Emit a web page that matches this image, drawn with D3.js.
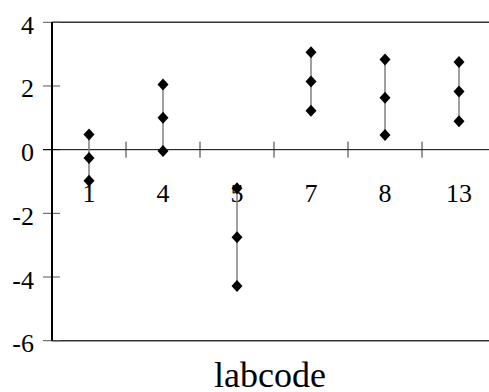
<!DOCTYPE html>
<html>
<head>
<meta charset="utf-8">
<script src="https://cdn.jsdelivr.net/npm/d3@7"></script>
<style>
body { margin:0; background:#fff; }
svg text { font-family:"Liberation Serif","Times New Roman",serif; fill:#000; }
</style>
</head>
<body>
<div id="chart"></div>
<script>
// labcode high / mid / low values
var categories = ["1", "4", "5", "7", "8", "13"];
var highVals = [0.48, 2.05, -1.21, 3.06, 2.83, 2.75];
var midVals  = [-0.26, 1.0, -2.75, 2.14, 1.63, 1.83];
var lowVals  = [-0.98, -0.04, -4.28, 1.22, 0.46, 0.89];
var yTicks = [-6, -4, -2, 0, 2, 4];

var W = 489, H = 392;
var margin = { left: 52, right: -7, top: 22.3, bottom: 51.3 };

var svg = d3.select("#chart").append("svg")
    .attr("width", W)
    .attr("height", H);

var x = d3.scaleBand()
    .domain(categories)
    .range([margin.left, W - margin.right])
    .padding(0);

var y = d3.scaleLinear()
    .domain([-6, 4])
    .range([H - margin.bottom, margin.top]);

var rows = categories.map(function(c, i){
    return { cat: c, hi: highVals[i], mid: midVals[i], lo: lowVals[i] };
});

// frame top and bottom
svg.append("line")
    .attr("x1", margin.left).attr("x2", W)
    .attr("y1", y(4)).attr("y2", y(4))
    .attr("stroke", "#333").attr("stroke-width", 1.5);
svg.append("line")
    .attr("x1", margin.left).attr("x2", W)
    .attr("y1", y(-6)).attr("y2", y(-6))
    .attr("stroke", "#333").attr("stroke-width", 1.5);

// y ticks crossing the left axis
var yAxis = svg.append("g").attr("class", "yaxis");
yAxis.selectAll("line.tick")
    .data(yTicks)
    .enter().append("line")
    .attr("class", "tick")
    .attr("x1", margin.left - 9).attr("x2", margin.left + 8)
    .attr("y1", function(d){ return y(d); })
    .attr("y2", function(d){ return y(d); })
    .attr("stroke", "#555").attr("stroke-width", 1);
yAxis.selectAll("text")
    .data(yTicks)
    .enter().append("text")
    .attr("x", 34)
    .attr("y", function(d){ return y(d) + 11.5; })
    .attr("text-anchor", "end")
    .style("font-size", "26px")
    .text(function(d){ return d; });

// left axis line
svg.append("line")
    .attr("x1", margin.left).attr("x2", margin.left)
    .attr("y1", y(4)).attr("y2", y(-6))
    .attr("stroke", "#000").attr("stroke-width", 2);

// zero line with category separators
svg.append("line")
    .attr("x1", margin.left - 9).attr("x2", W)
    .attr("y1", y(0)).attr("y2", y(0))
    .attr("stroke", "#000").attr("stroke-width", 1);
svg.selectAll("line.sep")
    .data(categories.slice(1))
    .enter().append("line")
    .attr("class", "sep")
    .attr("x1", function(d){ return x(d); })
    .attr("x2", function(d){ return x(d); })
    .attr("y1", y(0) - 8).attr("y2", y(0) + 8)
    .attr("stroke", "#333").attr("stroke-width", 1);

svg.selectAll("text.cat")
    .data(categories)
    .enter().append("text")
    .attr("class", "cat")
    .attr("x", function(d){ return x(d) + x.bandwidth() / 2; })
    .attr("y", y(0) + 52)
    .attr("text-anchor", "middle")
    .style("font-size", "26px")
    .text(function(d){ return d; });

// hi-lo lines
var cx = function(d){ return x(d.cat) + x.bandwidth() / 2; };
svg.selectAll("line.range")
    .data(rows)
    .enter().append("line")
    .attr("class", "range")
    .attr("x1", cx).attr("x2", cx)
    .attr("y1", function(d){ return y(d.hi); })
    .attr("y2", function(d){ return y(d.lo); })
    .attr("stroke", "#7f7f7f").attr("stroke-width", 1.5);

// diamonds
var pts = [];
rows.forEach(function(r){
    pts.push({ cat: r.cat, v: r.hi });
    pts.push({ cat: r.cat, v: r.mid });
    pts.push({ cat: r.cat, v: r.lo });
});
svg.selectAll("path.dot")
    .data(pts)
    .enter().append("path")
    .attr("class", "dot")
    .attr("d", "M0,-6L5.5,0L0,6L-5.5,0Z")
    .attr("transform", function(d){
        return "translate(" + cx(d) + "," + y(d.v) + ")";
    })
    .attr("fill", "#000");

// axis title
svg.append("text")
    .attr("x", 270)
    .attr("y", 387)
    .attr("text-anchor", "middle")
    .style("font-size", "36px")
    .text("labcode");
</script>
</body>
</html>
